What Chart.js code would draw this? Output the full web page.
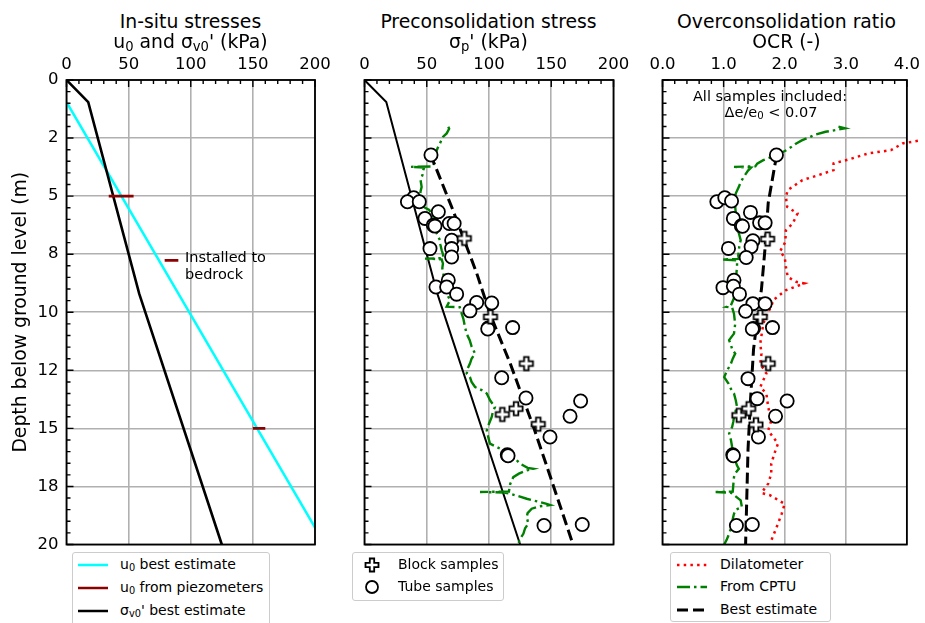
<!DOCTYPE html>
<html>
<head>
<meta charset="utf-8">
<script src="https://cdn.jsdelivr.net/npm/chart.js@4.4.0/dist/chart.umd.min.js"></script>
<style>
  body { margin: 0; background: #fff; }
  #fig { position: relative; width: 925px; height: 623px; overflow: hidden; font-family: "DejaVu Sans", sans-serif; color: #000; background: #fff; }
  #fig canvas { position: absolute; }
  .title { position: absolute; text-align: center; font-size: 18.8px; line-height: 19px; white-space: nowrap; }
  sub { font-size: 70%; vertical-align: -0.22em; line-height: 0; }
  .note { position: absolute; font-size: 14.5px; line-height: 17px; white-space: nowrap; }
  .legend { position: absolute; border: 1px solid #cccccc; border-radius: 3px; background: #fff; box-sizing: border-box; }
  .row { position: absolute; font-size: 14px; line-height: 17px; white-space: nowrap; }
  .legend svg { position: absolute; overflow: visible; }
</style>
</head>
<body>
<div id="fig">
  <canvas id="stressChart" width="340" height="520" style="left:0px;top:50px"></canvas>
  <canvas id="preconChart" width="300" height="520" style="left:340px;top:50px"></canvas>
  <canvas id="ocrChart" width="285" height="520" style="left:640px;top:50px"></canvas>

  <div class="title" style="left:66px;width:249px;top:12px">In-situ stresses</div>
  <div class="title" style="left:66px;width:249px;top:32px">u<sub>0</sub> and σ<sub>v0</sub>' (kPa)</div>
  <div class="title" style="left:364px;width:249px;top:12px">Preconsolidation stress</div>
  <div class="title" style="left:364px;width:249px;top:32px">σ<sub>p</sub>' (kPa)</div>
  <div class="title" style="left:662px;width:249px;top:12px">Overconsolidation ratio</div>
  <div class="title" style="left:662px;width:249px;top:32px">OCR (-)</div>

  <div class="note" style="left:185px;top:249px">Installed to</div>
  <div class="note" style="left:185px;top:266px">bedrock</div>
  <div class="note" style="left:662px;width:216px;text-align:center;top:88px">All samples included:</div>
  <div class="note" style="left:662px;width:218px;text-align:center;top:104px">Δe/e<sub>0</sub> &lt; 0.07</div>

  <div class="legend" style="left:72px;top:552px;width:198px;height:76px">
    <svg style="left:5px;top:12px" width="30" height="1"><line x1="0" y1="0" x2="30" y2="0" stroke="#00ffff" stroke-width="2.5"/></svg>
    <div class="row" style="left:47px;top:3px">u<sub>0</sub> best estimate</div>
    <svg style="left:5px;top:35px" width="30" height="1"><line x1="0" y1="0" x2="30" y2="0" stroke="#8b0000" stroke-width="2.5"/></svg>
    <div class="row" style="left:47px;top:26px">u<sub>0</sub> from piezometers</div>
    <svg style="left:5px;top:58px" width="30" height="1"><line x1="0" y1="0" x2="30" y2="0" stroke="#000" stroke-width="2.5"/></svg>
    <div class="row" style="left:47px;top:49px">σ<sub>v0</sub>' best estimate</div>
  </div>

  <div class="legend" style="left:352px;top:552px;width:152px;height:49px">
    <svg style="left:19px;top:12px" width="1" height="1"><path d="M-2.2,-6.5 H2.2 V-2.2 H6.5 V2.2 H2.2 V6.5 H-2.2 V2.2 H-6.5 V-2.2 H-2.2 Z" fill="#fff" stroke="#000" stroke-width="1.8"/></svg>
    <div class="row" style="left:45px;top:3px">Block samples</div>
    <svg style="left:19px;top:34px" width="1" height="1"><circle cx="0" cy="0" r="6" fill="#fff" stroke="#000" stroke-width="1.8"/></svg>
    <div class="row" style="left:45px;top:25px">Tube samples</div>
  </div>

  <div class="legend" style="left:670px;top:552px;width:161px;height:70px">
    <svg style="left:6px;top:12px" width="30" height="1"><line x1="0" y1="0" x2="30" y2="0" stroke="#ff0000" stroke-width="2.5" stroke-dasharray="2.5 4.2"/></svg>
    <div class="row" style="left:49px;top:3px">Dilatometer</div>
    <svg style="left:6px;top:34px" width="30" height="1"><line x1="0" y1="0" x2="30" y2="0" stroke="#008000" stroke-width="2.5" stroke-dasharray="13 4 2.5 4"/></svg>
    <div class="row" style="left:49px;top:25px">From CPTU</div>
    <svg style="left:6px;top:57px" width="30" height="1"><line x1="0" y1="0" x2="30" y2="0" stroke="#000" stroke-width="3" stroke-dasharray="11 5"/></svg>
    <div class="row" style="left:49px;top:48px">Best estimate</div>
  </div>
</div>

<script>
// depth axis (m), shared by all three panels
const depthTicks = [0, 2.5, 5, 7.5, 10, 12.5, 15, 17.5, 20];
const depthTickLabels = ['0', '2', '5', '8', '10', '12', '15', '18', '20'];
const stressTicks = [0, 50, 100, 150, 200];
const stressTickLabels = ['0', '50', '100', '150', '200'];
const ocrTicks = [0, 1, 2, 3, 4];
const ocrTickLabels = ['0.0', '1.0', '2.0', '3.0', '4.0'];

// in-situ stresses
const u0Depth = [0.95, 20];
const u0Value = [0, 208];
const piezoDepth = [5.0, 7.77, 15.0];
const piezoLow = [34, 79, 150];
const piezoHigh = [54, 90, 160];
const sigmaV0Depth = [0, 0.95, 9.2, 20];
const sigmaV0Value = [0, 17.5, 58.5, 125];

// preconsolidation stress, laboratory samples
const tubeDepth = [3.23, 5.07, 5.24, 5.24, 5.67, 5.96, 6.25, 6.29, 6.18, 6.18, 6.9, 7.26, 7.62, 7.26, 8.62, 8.91, 8.91, 9.22,
  9.58, 9.6, 9.94, 10.68, 10.72, 10.66, 12.82, 13.69, 13.82, 14.48, 15.37, 16.14, 16.18, 19.18, 19.14];
const tubeSigmaP = [53.4, 39.5, 34.5, 44.0, 59.3, 48.6, 55.3, 56.6, 68.1, 72.0, 70.0, 70.0, 70.0, 52.6, 67.3, 57.4, 66.0, 74.0,
  90.1, 102.2, 84.7, 99.4, 99.0, 119.0, 110.2, 129.7, 173.6, 165.1, 149.0, 114.7, 115.3, 144.2, 174.9];
const blockDepth = [6.82, 10.2, 12.21, 14.15, 14.4, 14.82];
const blockSigmaP = [80.2, 101.2, 130.0, 121.7, 110.7, 139.6];

// preconsolidation stress interpreted from CPTU
const cptuDepth = [2.01, 2.1, 2.3, 2.45, 2.73, 2.9, 3.1, 3.3, 3.5, 3.66, 3.72, 3.74, 3.77, 3.88, 4.1, 4.3, 4.6, 4.8, 5.03, 5.2,
  5.46, 5.6, 5.8, 6.0, 6.32, 6.6, 6.9, 7.1, 7.33, 7.5, 7.67, 7.69, 7.72, 7.9, 8.1, 8.33, 8.6, 8.91, 9.2, 9.48, 9.76, 9.78,
  10.06, 10.3, 10.63, 10.92, 11.2, 11.49, 11.78, 12.0, 12.21, 12.4, 12.64, 12.79, 13.0, 13.22, 13.35, 13.5, 13.8, 14.08,
  14.3, 14.51, 14.8, 15.09, 15.4, 15.66, 15.8, 16.09, 16.3, 16.52, 16.7, 16.74, 16.81, 16.95, 17.1, 17.4, 17.72, 17.74,
  17.76, 17.81, 18.03, 18.25, 18.3, 18.36, 18.46, 18.65, 18.82, 19.1, 19.3, 19.54, 19.8, 20.0];
const cptuSigmaP = [67.3, 68, 66, 63, 60.6, 59, 57.5, 56.6, 57, 55, 55, 37, 48, 47.2, 46.5, 45, 45.9, 45, 44.6, 46,
  47.2, 52, 55, 55.5, 56.6, 58, 60.6, 61, 62, 63, 63.3, 48.6, 62, 63, 62.5, 63.3, 64, 64.7, 66, 68.7, 66, 76.5,
  78.1, 79.5, 80.7, 82, 84.5, 86.1, 88.8, 86, 84.7, 83, 82.1, 84.7, 86, 88.8, 94, 98.2, 101, 104.8,
  103, 102.2, 100, 98.2, 99.5, 100.8, 106.2, 116.9, 121, 124.9, 131, 135.6, 130.3, 124, 119.5, 117, 116, 92.8,
  112, 116.9, 130.3, 146.3, 149, 140, 134.3, 131, 130.3, 131.6, 129, 127.6, 124.5, 123.5];
const bestSigmaPDepth = [3.2, 5.6, 8.3, 10.1, 12.2, 14.9, 16.8, 20];
const bestSigmaP = [53, 71, 90, 101, 117, 135.5, 147.5, 167.5];

// overconsolidation ratio
const tubeOcrDepth = [3.23, 5.24, 5.07, 5.21, 5.70, 5.96, 6.28, 6.30, 6.15, 6.15, 6.92, 7.18, 7.25, 7.64, 8.62, 8.94, 8.88,
  9.22, 9.63, 9.63, 9.96, 10.70, 10.72, 10.66, 12.86, 13.72, 13.82, 14.48, 15.37, 16.14, 16.18, 19.18, 19.14];
const tubeOcr = [1.865, 0.89, 1.02, 1.13, 1.44, 1.16, 1.29, 1.31, 1.59, 1.68, 1.48, 1.45, 1.08, 1.37, 1.17, 0.99, 1.16,
  1.26, 1.48, 1.68, 1.36, 1.49, 1.47, 1.80, 1.40, 1.55, 2.04, 1.85, 1.57, 1.15, 1.16, 1.21, 1.47];
const blockOcrDepth = [6.85, 10.2, 12.21, 14.15, 14.44, 14.84];
const blockOcr = [1.72, 1.60, 1.73, 1.41, 1.25, 1.53];
const cptuOcrDepth = [2.01, 2.08, 2.15, 2.23, 2.35, 2.47, 2.6, 2.73, 2.9, 3.02, 3.23, 3.45, 3.6, 3.72, 3.74, 3.77, 3.9, 4.17,
  4.4, 4.6, 4.88, 5.16, 5.45, 5.75, 6.0, 6.32, 6.6, 6.9, 7.1, 7.33, 7.55, 7.7, 7.73, 7.76, 8.05, 8.3, 8.62, 8.9, 9.19,
  9.45, 9.7, 9.77, 9.8, 10.06, 10.3, 10.5, 10.7, 10.92, 11.2, 11.4, 11.6, 11.78, 12.0, 12.21, 12.5, 12.79, 13.07, 13.3,
  13.5, 13.8, 14.08, 14.3, 14.51, 14.7, 14.94, 15.23, 15.5, 15.8, 16.1, 16.38, 16.6, 16.74, 16.9, 17.1, 17.4, 17.72,
  17.74, 17.77, 17.81, 18.1, 18.39, 18.5, 18.68, 18.9, 19.11, 19.3, 19.54, 19.8, 20.0];
const cptuOcr = [2.88, 2.99, 2.85, 2.67, 2.5, 2.40, 2.28, 2.19, 2.1, 2.03, 1.87, 1.65, 1.55, 1.52, 1.17, 1.45, 1.40, 1.33,
  1.28, 1.25, 1.20, 1.18, 1.19, 1.20, 1.21, 1.22, 1.25, 1.28, 1.26, 1.25, 1.24, 1.25, 0.98, 1.22, 1.22, 1.21, 1.20, 1.21,
  1.20, 1.16, 1.12, 1.05, 1.14, 1.17, 1.18, 1.19, 1.18, 1.17, 1.09, 1.12, 1.14, 1.19, 1.15, 1.12, 1.06, 1.01, 1.08, 1.12,
  1.17, 1.20, 1.22, 1.19, 1.17, 1.16, 1.14, 1.09, 1.12, 1.14, 1.17, 1.19, 1.22, 1.25, 1.2, 1.17, 1.16, 1.15,
  0.87, 1.12, 1.14, 1.28, 1.30, 1.2, 1.17, 1.15, 1.14, 1.12, 1.09, 1.05, 1.01];
const dmtDepth = [2.62, 2.73, 3.02, 3.16, 3.42, 3.59, 3.88, 4.09, 4.31, 4.74, 5.03, 5.46, 5.75, 6.18, 6.47, 6.98, 7.4,
  7.62, 8.05, 8.48, 8.69, 8.76, 9.05, 9.48, 9.77, 10.06, 10.49, 11.35, 11.78, 12.21, 12.64, 13.22, 13.5, 14.08, 14.66,
  15.09, 15.66, 16.02, 16.52, 16.95, 17.38, 17.78, 17.88, 18.25, 18.68, 19.11, 19.83];
const dmtOcr = [4.18, 3.93, 3.74, 3.37, 3.05, 2.80, 2.80, 2.56, 2.29, 2.05, 2.02, 2.04, 2.21, 2.13, 2.02, 2.01, 1.92,
  2.0, 2.02, 2.05, 2.19, 2.32, 2.02, 1.81, 1.78, 1.71, 1.65, 1.60, 1.62, 1.60, 1.70, 1.60, 1.70, 1.73, 1.78,
  1.73, 1.89, 1.84, 1.78, 1.78, 1.73, 1.62, 1.76, 2.0, 1.95, 1.89, 1.78];
const bestOcrDepth = [3.2, 5.3, 7.2, 9.0, 10.3, 11.6, 13.8, 15.9, 20];
const bestOcr = [1.87, 1.73, 1.68, 1.62, 1.55, 1.49, 1.44, 1.40, 1.36];

const pts = (xs, ys) => xs.map((x, i) => ({ x: x, y: ys[i] }));
const gridColor = '#b0b0b0';
const tickFont = { family: 'DejaVu Sans', size: 16.5 };

// white plus marker with a black outline
const plusMarker = document.createElement('canvas');
plusMarker.width = 18; plusMarker.height = 18;
(function () {
  const c = plusMarker.getContext('2d');
  const a = 2.3, b = 6.6, o = 9;
  c.beginPath();
  c.moveTo(o - a, o - b); c.lineTo(o + a, o - b); c.lineTo(o + a, o - a); c.lineTo(o + b, o - a);
  c.lineTo(o + b, o + a); c.lineTo(o + a, o + a); c.lineTo(o + a, o + b); c.lineTo(o - a, o + b);
  c.lineTo(o - a, o + a); c.lineTo(o - b, o + a); c.lineTo(o - b, o - a); c.lineTo(o - a, o - a);
  c.closePath();
  c.fillStyle = '#fff'; c.fill();
  c.lineWidth = 1.8; c.strokeStyle = '#000'; c.stroke();
})();

// frame on all four sides plus inward tick marks on the top and left
const frameTicks = {
  id: 'frameTicks',
  afterDatasetsDraw(chart, args, opts) {
    const { ctx, chartArea: a, scales } = chart;
    ctx.save();
    ctx.strokeStyle = '#000';
    ctx.lineWidth = 1.4;
    ctx.beginPath();
    for (let v = scales.x.min; v <= scales.x.max + 1e-9; v += opts.xMinor) {
      const px = scales.x.getPixelForValue(v);
      ctx.moveTo(px, a.top); ctx.lineTo(px, a.top + 4);
    }
    for (let v = 0; v <= 20 + 1e-9; v += 0.5) {
      const py = scales.y.getPixelForValue(v);
      ctx.moveTo(a.left, py); ctx.lineTo(a.left + 4, py);
    }
    for (const v of scales.x.ticks) {
      const px = scales.x.getPixelForValue(v.value);
      ctx.moveTo(px, a.top); ctx.lineTo(px, a.top + 7);
    }
    for (const v of depthTicks) {
      const py = scales.y.getPixelForValue(v);
      ctx.moveTo(a.left, py); ctx.lineTo(a.left + 7, py);
    }
    ctx.stroke();
    ctx.lineWidth = 1.8;
    ctx.strokeRect(a.left, a.top, a.right - a.left, a.bottom - a.top);
    ctx.restore();
  }
};

function makeChart(id, cfg) {
  return new Chart(document.getElementById(id), {
    type: 'scatter',
    data: { datasets: cfg.datasets },
    options: {
      responsive: false,
      animation: false,
      events: [],
      layout: { padding: { left: 0, right: cfg.padRight, top: 0, bottom: 25.5 } },
      plugins: { legend: { display: false }, tooltip: { enabled: false }, frameTicks: { xMinor: cfg.xMinor } },
      scales: {
        x: {
          type: 'linear', position: 'top', min: cfg.xTicks[0], max: cfg.xTicks[cfg.xTicks.length - 1],
          afterBuildTicks: s => { s.ticks = cfg.xTicks.map(v => ({ value: v })); },
          ticks: { callback: (v, i) => cfg.xLabels[i], font: tickFont, color: '#000', padding: 5, maxRotation: 0 },
          grid: { color: gridColor, lineWidth: 1.6, drawTicks: false },
          border: { display: false },
          afterFit: s => { s.height = 30; }
        },
        y: {
          type: 'linear', reverse: true, min: 0, max: 20,
          afterBuildTicks: s => { s.ticks = depthTicks.map(v => ({ value: v })); },
          ticks: { display: cfg.yLabels, callback: (v, i) => depthTickLabels[i], font: tickFont, color: '#000', padding: 8 },
          grid: { color: gridColor, lineWidth: 1.6, drawTicks: false },
          border: { display: false },
          title: {
            display: cfg.yLabels, text: 'Depth below ground level (m)', color: '#000',
            font: { family: 'DejaVu Sans', size: 18.8 }, padding: { top: 10, bottom: 0 }
          },
          afterFit: s => { s.width = cfg.yWidth; }
        }
      }
    },
    plugins: [frameTicks]
  });
}

const line = (data, color, width, dash, extra) => Object.assign({
  data: data, showLine: true, pointRadius: 0, borderColor: color, borderWidth: width,
  borderDash: dash || [], fill: false, tension: 0
}, extra || {});
const tubes = data => ({
  data: data, pointStyle: 'circle', pointRadius: 6.6, pointBorderWidth: 1.8,
  pointBackgroundColor: '#fff', pointBorderColor: '#000', showLine: false
});
const blocks = data => ({ data: data, pointStyle: plusMarker, pointRadius: 9, showLine: false });

makeChart('stressChart', {
  xTicks: stressTicks, xLabels: stressTickLabels, xMinor: 10, yLabels: true, yWidth: 66.5, padRight: 25,
  datasets: piezoDepth.map((d, i) => line([{ x: piezoLow[i], y: d }, { x: piezoHigh[i], y: d }], '#8b0000', 2.8))
    .concat([
      line(pts(sigmaV0Value, sigmaV0Depth), '#000', 2.6),
      line(pts(u0Value, u0Depth), '#00ffff', 2.6)
    ])
});

makeChart('preconChart', {
  xTicks: stressTicks, xLabels: stressTickLabels, xMinor: 10, yLabels: false, yWidth: 24.5, padRight: 26.5,
  datasets: [
    blocks(pts(blockSigmaP, blockDepth)),
    tubes(pts(tubeSigmaP, tubeDepth)),
    line(pts(bestSigmaP, bestSigmaPDepth), '#000', 3, [11, 5]),
    line(pts(cptuSigmaP, cptuDepth), '#008000', 2.4, [13, 4, 2.5, 4]),
    line(pts(sigmaV0Value, sigmaV0Depth), '#000', 2)
  ]
});

makeChart('ocrChart', {
  xTicks: ocrTicks, xLabels: ocrTickLabels, xMinor: 0.2, yLabels: false, yWidth: 22.5, padRight: 14,
  datasets: [
    blocks(pts(blockOcr, blockOcrDepth)),
    tubes(pts(tubeOcr, tubeOcrDepth)),
    line(pts(bestOcr, bestOcrDepth), '#000', 3, [11, 5]),
    line(pts(cptuOcr, cptuOcrDepth), '#008000', 2.4, [13, 4, 2.5, 4]),
    line(pts(dmtOcr, dmtDepth), '#ff0000', 2.5, [2.5, 4.2], { clip: false })
  ]
});
</script>
</body>
</html>
